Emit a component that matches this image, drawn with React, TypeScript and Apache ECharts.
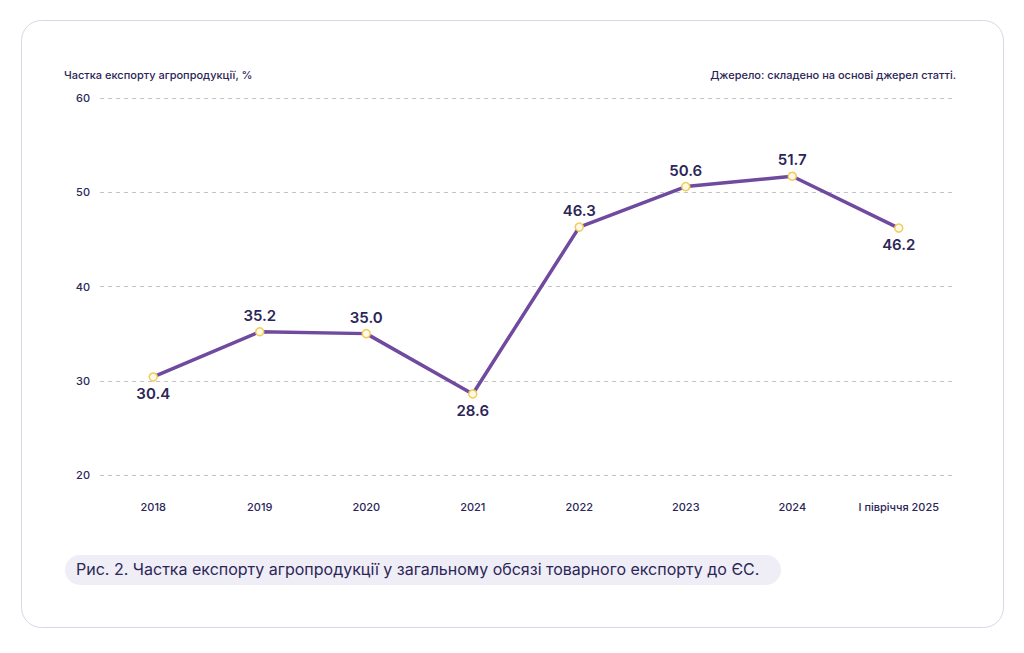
import React, { useEffect, useRef } from "react";
import * as echarts from "echarts";

const categories = ["2018", "2019", "2020", "2021", "2022", "2023", "2024", "I півріччя 2025"];
const values = [30.4, 35.2, 35.0, 28.6, 46.3, 50.6, 51.7, 46.2];
const labelBelow = [true, false, false, true, false, false, false, true];
const yTitle = "Частка експорту агропродукції, %";
const sourceText = "Джерело: складено на основі джерел статті.";
const caption = "Рис. 2. Частка експорту агропродукції у загальному обсязі товарного експорту до ЄС.";

const FONT = "Inter, 'Noto Sans', sans-serif";
const DARK = "#2b2657";

export default function App() {
  const ref = useRef<HTMLDivElement>(null);
  useEffect(() => {
    if (!ref.current) return;
    const chart = echarts.init(ref.current, undefined, { renderer: "svg" });
    chart.setOption({
      animation: false,
      backgroundColor: "#ffffff",
      textStyle: { fontFamily: FONT },
      graphic: [
        {
          type: "rect",
          z: -10,
          shape: { x: 21.5, y: 20.5, width: 982, height: 607, r: 20 },
          style: { fill: "#ffffff", stroke: "#d9d7e6", lineWidth: 1 },
        },
        {
          type: "text",
          left: 64,
          top: 69,
          style: { text: yTitle, fill: DARK, font: `500 11px ${FONT}` },
        },
        {
          type: "text",
          right: 68,
          top: 69,
          style: { text: sourceText, fill: DARK, font: `500 11px ${FONT}`, align: "right" },
        },
        {
          type: "rect",
          shape: { x: 65, y: 555, width: 716, height: 30, r: 15 },
          style: { fill: "#efedf6" },
        },
        {
          type: "text",
          left: 76,
          top: 561,
          style: { text: caption, fill: DARK, font: `400 16px ${FONT}` },
        },
      ],
      grid: { left: 100, right: 72, top: 98, bottom: 178, containLabel: false },
      xAxis: {
        type: "category",
        data: categories,
        boundaryGap: true,
        axisLine: { show: false },
        axisTick: { show: false },
        axisLabel: { color: DARK, fontSize: 11, margin: 26, fontFamily: FONT, fontWeight: 500 },
      },
      yAxis: {
        type: "value",
        min: 20,
        max: 60,
        interval: 10,
        axisLine: { show: false },
        axisTick: { show: false },
        axisLabel: { color: DARK, fontSize: 11, margin: 10, fontFamily: FONT, fontWeight: 500 },
        splitLine: { lineStyle: { color: "#c4c4c8", type: [4, 4], width: 1 } },
      },
      series: [
        {
          type: "line",
          data: values.map((v, i) => ({
            value: v,
            label: { position: labelBelow[i] ? "bottom" : "top" },
          })),
          lineStyle: { color: "#6f4a9e", width: 3.5 },
          itemStyle: { color: "#fffbe8", borderColor: "#f2cb5a", borderWidth: 1.5 },
          symbol: "circle",
          symbolSize: 8,
          label: {
            show: true,
            color: DARK,
            fontSize: 15,
            fontWeight: 600,
            fontFamily: FONT,
            distance: 4,
            formatter: (p: any) => Number(p.value).toFixed(1),
          },
        },
      ],
    });
    return () => chart.dispose();
  }, []);
  return (
    <div
      ref={ref}
      style={{ position: "absolute", left: 0, top: 0, width: 1024, height: 653 }}
    />
  );
}
